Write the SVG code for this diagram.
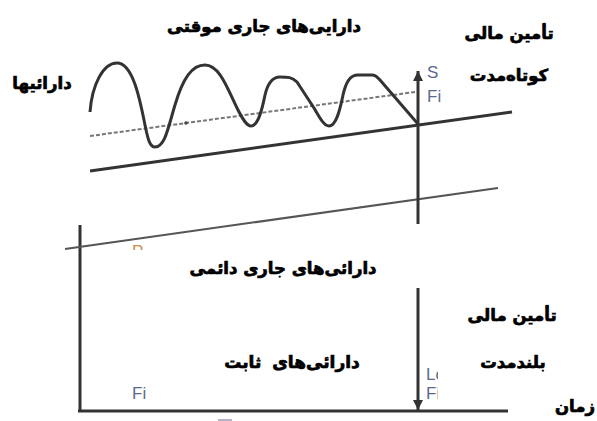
<svg xmlns="http://www.w3.org/2000/svg" width="597" height="421" viewBox="0 0 597 421">
<style>
.fa{font-family:"DejaVu Sans","Noto Sans",sans-serif;font-weight:bold;font-size:16.5px;fill:#000;stroke:#000;stroke-width:0.7px;text-anchor:middle}
.en{font-family:"Liberation Sans",Arial,sans-serif;font-size:17px;fill:#5a6a8c}
.ax{stroke:#333;stroke-width:3;fill:none}
</style>
<defs>
<marker id="ah" viewBox="0 0 10 10" refX="10" refY="5" markerWidth="11" markerHeight="10" markerUnits="userSpaceOnUse" orient="auto">
<path d="M0,0 L10,5 L0,10 z" fill="#333"/>
</marker>
<clipPath id="cF"><rect x="125" y="380" width="25" height="25"/></clipPath>
<clipPath id="cP"><rect x="128" y="240" width="18" height="10"/></clipPath>
<clipPath id="cS"><rect x="425" y="60" width="16" height="50"/></clipPath>
<clipPath id="cL"><rect x="425" y="350" width="13" height="50"/></clipPath>
</defs>
<g id="connectors">
<line class="ax" x1="80" y1="225" x2="80" y2="412"/>
<line class="ax" x1="78" y1="411" x2="508" y2="411"/>
<line x1="65" y1="249" x2="498" y2="188" stroke="#555" stroke-width="2"/>
<line x1="90" y1="171" x2="512" y2="112" stroke="#333" stroke-width="3"/>
<line x1="90" y1="136" x2="415" y2="92" stroke="#777" stroke-width="2" stroke-dasharray="4 2"/>
<circle cx="186" cy="123" r="1.8" fill="#444"/>
<path d="M90,112 C92,85 103,63 117,63 C133,63 140,100 145,125 C148,140 150,147 155,147 C165,147 168,128 175,105 C183,78 192,65 205,65 C220,65 228,90 237,108 C243,120 247,126 251,126 C258,126 262,110 265,95 C268,82 273,77 280,77 C288,77 292,77 297,82 L314,108 C320,118 324,126 329,126 C336,126 340,110 343,95 C346,82 350,75 358,75 L372,75 C376,75 378,78 380,80 L418,124" stroke="#333" stroke-width="3" fill="none" stroke-linejoin="round"/>
<line x1="418" y1="224" x2="418" y2="71" stroke="#333" stroke-width="3" marker-end="url(#ah)"/>
<line x1="418" y1="288" x2="418" y2="410" stroke="#333" stroke-width="3" marker-end="url(#ah)"/>
<rect x="218" y="419" width="14" height="2" fill="#b8b0c8"/>
</g>
<g id="labels-en">
<g clip-path="url(#cS)"><text class="en" x="427" y="78">S</text><text class="en" x="427" y="102">Fi</text></g>
<g clip-path="url(#cL)"><text class="en" x="426" y="380">Lo</text><text class="en" x="426" y="399">Fir</text></g>
<g clip-path="url(#cF)"><text class="en" x="132" y="399">Fi</text></g>
<g clip-path="url(#cP)"><text class="en" x="132" y="257" style="fill:#c8904a">P</text></g>
</g>
<g id="n-title"><text class="fa" x="264" y="32">دارایی‌های جاری موقتی</text></g>
<g id="n-short1"><text class="fa" x="509" y="39">تأمین مالی</text></g>
<g id="n-short2"><text class="fa" x="509" y="81">کوتاه‌مدت</text></g>
<g id="n-assets"><text class="fa" x="42" y="89">دارائیها</text></g>
<g id="n-perm"><text class="fa" x="283" y="274">دارائی‌های جاری دائمی</text></g>
<g id="n-long1"><text class="fa" x="512" y="321">تأمین مالی</text></g>
<g id="n-long2"><text class="fa" x="513" y="368">بلندمدت</text></g>
<g id="n-fixed"><text class="fa" x="292" y="368" style="word-spacing:5px;font-size:17px">دارائی‌های ثابت</text></g>
<g id="n-time"><text class="fa" x="575" y="412">زمان</text></g>
</svg>
